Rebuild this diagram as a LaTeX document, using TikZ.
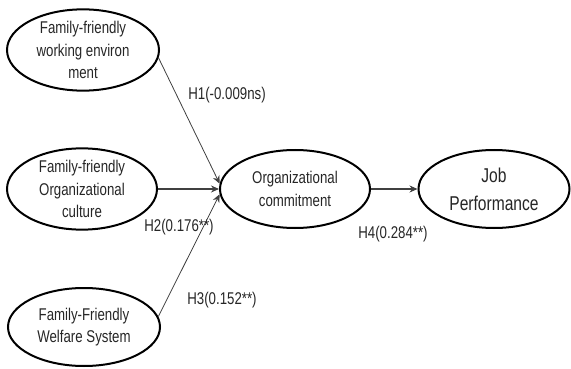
\documentclass[tikz,border=0pt]{standalone}
\usepackage{fontspec}
\setmainfont[FakeStretch=0.78]{Liberation Sans}
\usetikzlibrary{shapes.geometric,arrows.meta}
\tikzset{
  oval/.style={ellipse,draw=black,line width=2pt,inner sep=0pt,align=center,
    font=\fontsize{17}{22.5}\selectfont,text=black!85},
  conn/.style={draw=black!75,line width=0.8pt,-{Stealth[length=8pt,width=7pt]}},
  lab/.style={font=\fontsize{17}{20}\selectfont,text=black!85,inner sep=0pt}
}
\begin{document}
\begin{tikzpicture}[x=1pt,y=-1pt]
\useasboundingbox (0,0) rectangle (571,369);
\node[oval,minimum width=152pt,minimum height=78pt] (e1) at (83,50) {Family-friendly\\working environ\\ment};
\node[oval,minimum width=150pt,minimum height=72pt] (e2) at (82,189) {Family-friendly\\Organizational\\culture};
\node[oval,minimum width=152pt,minimum height=78pt] (e3) at (84,327) {Family-Friendly\\Welfare System};
\node[oval,minimum width=150pt,minimum height=78pt] (org) at (295,189) {Organizational\\commitment};
\node[oval,minimum width=151pt,minimum height=78pt,font=\fontsize{20}{28}\selectfont] (job) at (494,189) {Job\\Performance};
\draw[conn] (e1.-6) -- (org.176);
\draw[conn,line width=1.1pt] (e2.east) -- (org.west);
\draw[conn] (e3.8) -- (org.184);
\draw[conn,line width=1.1pt] (org.east) -- (job.west);
\node[lab] (h1) at (227,95) {H1(-0.009ns)};
\node[lab] (h2) at (179,227) {H2(0.176**)};
\node[lab] (h3) at (222,300) {H3(0.152**)};
\node[lab] (h4) at (393,234) {H4(0.284**)};
\end{tikzpicture}
\end{document}
